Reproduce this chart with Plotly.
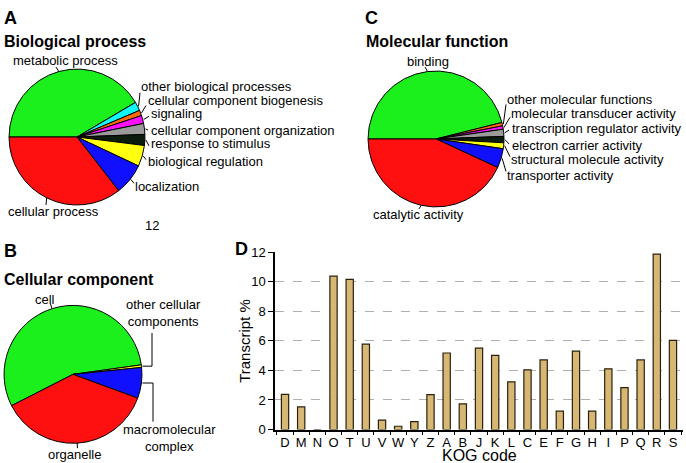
import math
import plotly.graph_objects as go

W, H = 686, 463
H_FIG = 471
FONT = "Liberation Sans, Arial, sans-serif"

# ---------------- data ----------------
bp_labels = ["metabolic process", "other biological processes", "cellular component biogenesis",
             "signaling", "cellular component organization", "response to stimulus",
             "biological regulation", "localization", "cellular process"]
bp_values = [41.5, 2.1, 1.3, 1.9, 2.6, 2.6, 5.0, 7.5, 35.5]
bp_colors = ["#1cf01c", "#10f8f8", "#ff6a10", "#ff10ff", "#9a9a9a", "#0c1c0c",
             "#ffff10", "#1010ff", "#ff1010"]

mf_labels = ["binding", "other molecular functions", "molecular transducer activity",
             "transcription regulator activity", "electron carrier activity",
             "structural molecule activity", "transporter activity", "catalytic activity"]
mf_values = [46.1, 0.8, 0.8, 1.7, 1.5, 1.4, 4.6, 43.1]
mf_colors = ["#1cf01c", "#ff6a10", "#ff10ff", "#9a9a9a", "#0c1c0c", "#ffff10", "#1010ff", "#ff1010"]

cc_labels = ["cell", "other cellular components", "macromolecular complex", "organelle"]
cc_values = [55.3, 0.6, 7.2, 36.9]
cc_colors = ["#1cf01c", "#ffff10", "#1010ff", "#ff1010"]

kog_codes = ["D", "M", "N", "O", "T", "U", "V", "W", "Y", "Z", "A", "B", "J", "K", "L",
             "C", "E", "F", "G", "H", "I", "P", "Q", "R", "S"]
kog_values = [2.38, 1.53, 0.0, 10.38, 10.16, 5.78, 0.64, 0.22, 0.53, 2.36, 5.18, 1.73, 5.51,
              5.02, 3.22, 4.04, 4.71, 1.24, 5.31, 1.24, 4.11, 2.84, 4.71, 11.87, 6.04]
y_ticks = [0, 2, 4, 6, 8, 10, 12]


def px(x):
    return x / W


def py(y):
    return 1 - y / H


fig = go.Figure()
shapes = []
annotations = []

pies = [
    (bp_labels, bp_values, bp_colors, (77, 132), 69, 270, [
        (["metabolic process"], 65, 54, "center", 56, 61),
        (["other biological processes"], 140, 81, "left", 140, 87),
        (["cellular component biogenesis"], 147, 95, "left", 146, 100),
        (["signaling"], 150, 108, "left", 149, 111),
        (["cellular component organization"], 150, 125.5, "left", 148, 125),
        (["response to stimulus"], 150, 139, "left", 149, 141),
        (["biological regulation"], 147, 157, "left", 146, 155),
        (["localization"], 134, 182, "left", 134, 179),
        (["cellular process"], 53, 208, "center", 46, 201),
    ]),
    (mf_labels, mf_values, mf_colors, (436, 134), 69, 270, [
        (["binding"], 428, 55, "center", 425, 61),
        (["other molecular functions"], 506, 94, "left", 506, 99),
        (["molecular transducer activity"], 510, 108, "left", 510, 112),
        (["transcription regulator activity"], 511, 123, "left", 509, 125),
        (["electron carrier activity"], 511, 141, "left", 509, 139),
        (["structural molecule activity"], 510, 155, "left", 510, 152),
        (["transporter activity"], 506, 171, "left", 506, 167),
        (["catalytic activity"], 418, 211, "center", 419, 205),
    ]),
]

for labels, values, colors, (cx, cy), r, rot, specs in pies:
    fig.add_trace(go.Pie(
        labels=labels, values=values, sort=False, direction="clockwise", rotation=rot,
        marker=dict(colors=colors, line=dict(color="black", width=1)),
        textinfo="none", showlegend=False, hoverinfo="label+percent",
        domain=dict(x=[px(cx - r), px(cx + r)], y=[py(cy + r), py(cy - r)]),
    ))
    total = sum(values)
    ang = rot
    for v, (lines, tx, ty, xa, ex, ey) in zip(values, specs):
        mid = ang + 360 * v / total / 2
        ang += 360 * v / total
        a = math.radians(mid)
        sx = cx + r * math.sin(a)
        sy = cy - r * math.cos(a)
        shapes.append(dict(type="line", xref="paper", yref="paper",
                           x0=px(sx), y0=py(sy), x1=px(ex), y1=py(ey),
                           line=dict(color="black", width=1)))
        annotations.append(dict(text="<br>".join(lines), x=px(tx), y=py(ty), xref="paper",
                                yref="paper", xanchor=xa, yanchor="middle", showarrow=False,
                                borderpad=0,
                                font=dict(size=13, color="black", family=FONT)))

ccx, ccy, ccr = 73, 373, 70
cc_rot = 243
fig.add_trace(go.Pie(
    labels=cc_labels, values=cc_values, sort=False, direction="clockwise", rotation=cc_rot,
    marker=dict(colors=cc_colors, line=dict(color="black", width=1)),
    textinfo="none", showlegend=False, hoverinfo="label+percent",
    domain=dict(x=[px(ccx - ccr), px(ccx + ccr)], y=[py(ccy + ccr), py(ccy - ccr)]),
))
cc_specs = [
    ("cell", 45, 297, "center", None),
    ("other cellular<br>components", 125, 311, "left", (152, 331)),
    ("macromolecular<br>complex", 122, 438, "left", (153, 421)),
    ("organelle", 75, 454, "center", None),
]
tot = sum(cc_values)
ang = cc_rot
for v, (t, tx, ty, xa, elbow) in zip(cc_values, cc_specs):
    mid = ang + 360 * v / tot / 2
    ang += 360 * v / tot
    a = math.radians(mid)
    sx = ccx + ccr * math.sin(a)
    sy = ccy - ccr * math.cos(a)
    if elbow is not None:
        ex, ey = elbow
        shapes.append(dict(type="path", xref="paper", yref="paper",
                           path=f"M {px(sx)},{py(sy)} L {px(ex)},{py(sy)} L {px(ex)},{py(ey)}",
                           line=dict(color="black", width=1)))
    else:
        ex = ccx + (ccr + 5) * math.sin(a)
        ey = ccy - (ccr + 5) * math.cos(a)
        shapes.append(dict(type="line", xref="paper", yref="paper",
                           x0=px(sx), y0=py(sy), x1=px(ex), y1=py(ey),
                           line=dict(color="black", width=1)))
    annotations.append(dict(text=t, x=px(tx), y=py(ty), xref="paper", yref="paper",
                            xanchor=xa, yanchor="middle", showarrow=False, borderpad=0,
                            font=dict(size=13, color="black", family=FONT)))

fig.add_trace(go.Bar(
    x=kog_codes, y=kog_values, width=0.45, showlegend=False,
    marker=dict(color="#d6b874", line=dict(color="#2a200c", width=1.2)),
    xaxis="x", yaxis="y",
))

for t, x, y, s in [("A", 3, 11, 18), ("Biological process", 3, 35, 16),
                   ("C", 364, 11, 18), ("Molecular function", 365, 35, 16),
                   ("B", 3, 248, 18), ("Cellular component", 3, 277, 16),
                   ("D", 234, 246, 18)]:
    annotations.append(dict(text=f"<b>{t}</b>", x=px(x), y=py(y), xref="paper", yref="paper",
                            xanchor="left", yanchor="middle", showarrow=False, borderpad=0,
                            font=dict(size=s, color="black", family=FONT)))

annotations.append(dict(text="12", x=px(152), y=py(222), xref="paper", yref="paper",
                        xanchor="center", yanchor="middle", showarrow=False, borderpad=0,
                        font=dict(size=13, color="black", family=FONT)))
annotations.append(dict(text="Transcript %", x=px(245), y=py(339), xref="paper", yref="paper",
                        xanchor="center", yanchor="middle", showarrow=False, textangle=-90,
                        borderpad=0, font=dict(size=15, color="black", family=FONT)))
annotations.append(dict(text="KOG code", x=px(479), y=py(455), xref="paper", yref="paper",
                        xanchor="center", yanchor="middle", showarrow=False, borderpad=0,
                        font=dict(size=16, color="black", family=FONT)))

fig.update_layout(
    width=W, height=H_FIG, autosize=False,
    margin=dict(l=0, r=0, t=0, b=0),
    paper_bgcolor="white", plot_bgcolor="white",
    shapes=shapes, annotations=annotations,
    font=dict(family=FONT, color="black"),
    xaxis=dict(domain=[px(275), px(683)], anchor="y", type="category",
               range=[-0.62, len(kog_codes) - 1 + 0.62],
               showline=True, linecolor="black", linewidth=1.5, mirror=False,
               ticks="outside", tickson="boundaries", ticklen=4, tickcolor="black",
               tickangle=0,
               tickfont=dict(size=13, color="black", family=FONT), showgrid=False),
    yaxis=dict(domain=[py(429), py(249)], anchor="x", range=[0, 12],
               tickvals=y_ticks, showline=True, linecolor="black", linewidth=1.5,
               ticks="outside", ticklen=5, tickcolor="black",
               tickfont=dict(size=13, color="black", family=FONT),
               showgrid=True, gridcolor="#b0b0b0", griddash="dash", gridwidth=1,
               zeroline=False),
    bargap=0.5,
)

page_css = "document.body.style.margin='0';document.body.style.padding='0';"
fig.write_html("out.html", config={"displayModeBar": False}, post_script=page_css)
